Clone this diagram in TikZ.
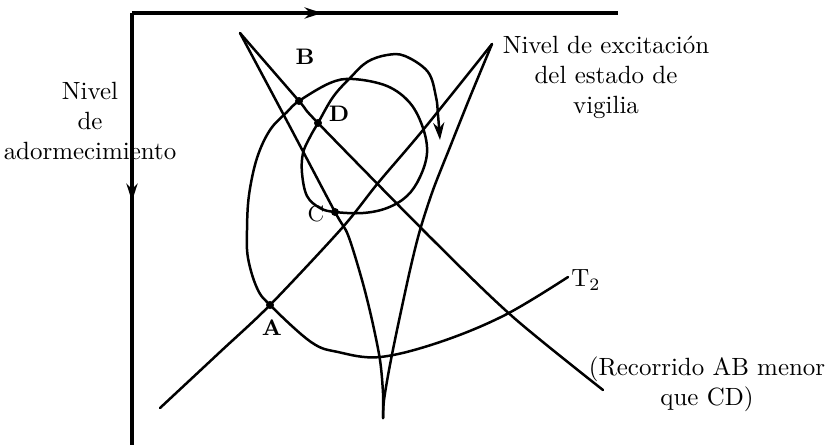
\documentclass[tikz,border=0pt]{standalone}
\usepackage{fontspec}
\usetikzlibrary{arrows.meta}

\begin{document}
\begin{tikzpicture}[x=0.0141cm, y=-0.0141cm,
    every node/.style={font=\normalsize},
    axis/.style={line width=1.4pt},
    track/.style={line width=1pt, line join=round, line cap=round},
    ptlabel/.style={font=\small\bfseries},
    >={Stealth[length=7pt,width=4.5pt]}]
    \useasboundingbox (0,0) rectangle (826,445);
    % axes
    \coordinate (O) at (132,13);
    \coordinate (xarr) at (322,13);
    \coordinate (xend) at (618,13);
    \coordinate (yarr) at (132,201);
    \coordinate (yend) at (132,445);
    \draw[axis] (O) -- (xend);
    \draw[axis,->] (O) -- (xarr);
    \draw[axis] (O) -- (yend);
    \draw[axis,->] (O) -- (yarr);
    % points
    \coordinate (A) at (270,305);
    \coordinate (B) at (299,101);
    \coordinate (C) at (335,212);
    \coordinate (D) at (318,123);
    \coordinate (topL) at (240,33);
    \coordinate (topR) at (492,44);
    \coordinate (cusp) at (383,418);
    \coordinate (t1End) at (160,408);
    \coordinate (t2End) at (568,277);
    \coordinate (recEnd) at (603,390);
    \draw[track] plot[smooth] coordinates {(topL) (B) (D) (433,240) (513,317) (recEnd)};
    \draw[track] plot[smooth] coordinates {(topR) (423,130) (378,183) (342,228) (A) (220,352) (t1End)};
    \draw[track] plot[smooth, tension=0.5] coordinates {(topL) (288,123) (C) (348,235) (362,280) (372,320) (380,360) (383,393) (cusp)};
    \draw[track] plot[smooth, tension=0.5] coordinates {(topR) (470,97) (450,147) (433,190) (420,230) (410,270) (397,330) (389,370) (384,400) (cusp)};
    \draw[track,->] plot[smooth, tension=0.6] coordinates {(t2End) (505,315) (440,342) (380,357) (338,352) (311,342) (A) (257,288) (248,258) (247,230) (249,195) (257,158) (270,130) (287,112) (B) (330,83) (353,79) (387,86) (410,103) (423,128) (427,153) (420,177) (407,196) (387,208) (363,213) (C) (320,208) (307,196) (302,173) (303,153) (310,137) (D) (333,97) (350,78) (367,62) (387,55) (405,56) (428,72) (436,97) (438,115) (440,140)};
    \foreach \p in {A,B,C,D}
        \fill (\p) circle (1.6pt);
    % labels
    \node[ptlabel] (labB) at (305,57) {B};
    \node[ptlabel] (labD) at (339,114) {D};
    \node[font=\small] (labC) at (316,214) {C};
    \node[ptlabel] (labA) at (272,328) {A};
    \node (labT) at (586,280) {T$_2$};
    \node[align=center] (vigilia) at (606,77) {Nivel de excitación\\del estado de\\vigilia};
    \node[align=center] (sueno) at (90,121) {Nivel\\de\\adormecimiento};
    \node[align=center] (recorrido) at (707,384) {(Recorrido AB menor\\que CD)};
\end{tikzpicture}
\end{document}
